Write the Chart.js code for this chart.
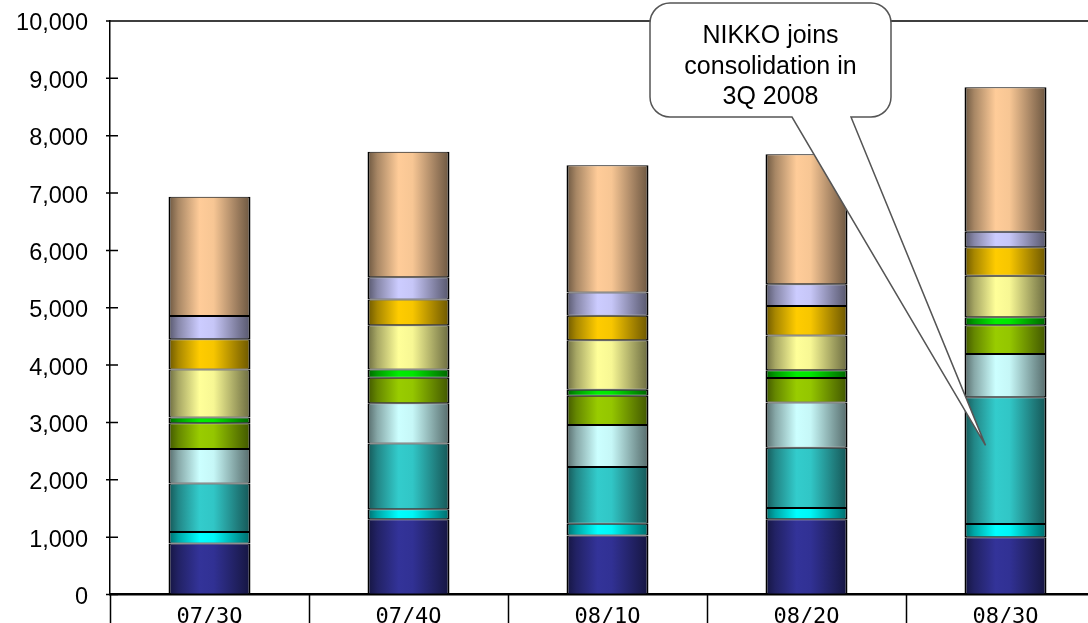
<!DOCTYPE html>
<html>
<head>
<meta charset="utf-8">
<script src="https://cdn.jsdelivr.net/npm/chart.js@4.4.1/dist/chart.umd.min.js"></script>
<style>
  html, body { margin: 0; padding: 0; background: #fff; overflow: hidden; }
  #wrap { width: 1106px; height: 623px; }
</style>
</head>
<body>
<div id="wrap"><canvas id="chart" width="1106" height="623"></canvas></div>
<script>
// categories + tick labels
const quarters = ['07/3Q', '07/4Q', '08/1Q', '08/2Q', '08/3Q'];
const yTickValues = [0, 1000, 2000, 3000, 4000, 5000, 6000, 7000, 8000, 9000, 10000];

// stacked segments, bottom to top (no legend in the source, named by colour)
const navy      = [890, 1310, 1030, 1310, 1000];
const cyan      = [200, 175, 205, 200, 230];
const teal      = [845, 1150, 990, 1050, 2210];
const lightCyan = [600, 700, 730, 790, 755];
const olive     = [450, 445, 510, 425, 500];
const green     = [100, 145, 105, 135, 140];
const yellow    = [840, 770, 865, 605, 725];
const gold      = [525, 450, 425, 515, 495];
const lavender  = [405, 385, 405, 380, 270];
const tan       = [2080, 2190, 2220, 2265, 2520];

const calloutLines = ['NIKKO joins', 'consolidation in', '3Q 2008'];

const BAR_PCT = 0.412;

function shade(hex, f) {
    const n = parseInt(hex.slice(1), 16);
    const r = Math.round(((n >> 16) & 255) * f);
    const g = Math.round(((n >> 8) & 255) * f);
    const b = Math.round((n & 255) * f);
    return `rgb(${r},${g},${b})`;
}

// cylinder-like horizontal gradient, like the old Excel fill
function barFill(hex) {
    return (ctx) => {
        if (ctx.type !== 'data') return hex;
        const chart = ctx.chart;
        const xs = chart.scales.x;
        if (!xs || !chart.chartArea) return hex;
        const cx = xs.getPixelForValue(ctx.dataIndex);
        const half = xs.width / quarters.length * BAR_PCT / 2;
        const g = chart.ctx.createLinearGradient(cx - half, 0, cx + half, 0);
        g.addColorStop(0, shade(hex, 0.42));
        g.addColorStop(0.12, shade(hex, 0.66));
        g.addColorStop(0.38, shade(hex, 1));
        g.addColorStop(0.55, shade(hex, 0.97));
        g.addColorStop(0.85, shade(hex, 0.6));
        g.addColorStop(1, shade(hex, 0.42));
        return g;
    };
}

function segment(data, hex) {
    return {
        data: data,
        backgroundColor: barFill(hex),
        borderColor: '#000',
        borderWidth: { top: 1, bottom: 1, left: 2, right: 2 },
        borderSkipped: false,
        categoryPercentage: 1,
        barPercentage: BAR_PCT
    };
}

// top frame line, inner y ticks, category separators under the axis
const framePlugin = {
    id: 'frame',
    beforeDatasetsDraw(chart) {
        const { ctx, chartArea } = chart;
        const xs = chart.scales.x, ys = chart.scales.y;
        ctx.save();
        ctx.strokeStyle = '#000';
        ctx.lineWidth = 1.5;
        ctx.beginPath();
        ctx.moveTo(chartArea.left, chartArea.top);
        ctx.lineTo(chartArea.right, chartArea.top);
        yTickValues.forEach(v => {
            const y = ys.getPixelForValue(v);
            ctx.moveTo(chartArea.left - 4, y);
            ctx.lineTo(chartArea.left + 8, y);
        });
        const step = xs.width / quarters.length;
        for (let i = 0; i <= quarters.length; i++) {
            const x = Math.round(xs.left + step * i) + 0.5;
            ctx.moveTo(x, chartArea.bottom);
            ctx.lineTo(x, chart.height);
        }
        ctx.stroke();
        ctx.restore();
    }
};

const calloutPlugin = {
    id: 'callout',
    afterDatasetsDraw(chart) {
        const { ctx } = chart;
        const xs = chart.scales.x, ys = chart.scales.y;
        const L = 650, T = 3, R = 891, B = 117, r = 20;
        const tailL = 792, tailR = 851;
        const tipX = xs.getPixelForValue(4) - 20;
        const tipY = ys.getPixelForValue(2600);

        ctx.save();
        ctx.beginPath();
        ctx.moveTo(L + r, T);
        ctx.lineTo(R - r, T);
        ctx.arcTo(R, T, R, T + r, r);
        ctx.lineTo(R, B - r);
        ctx.arcTo(R, B, R - r, B, r);
        ctx.lineTo(tailR, B);
        ctx.lineTo(tipX, tipY);
        ctx.lineTo(tailL, B);
        ctx.lineTo(L + r, B);
        ctx.arcTo(L, B, L, B - r, r);
        ctx.lineTo(L, T + r);
        ctx.arcTo(L, T, L + r, T, r);
        ctx.closePath();
        ctx.fillStyle = '#fff';
        ctx.fill();
        ctx.strokeStyle = '#555';
        ctx.lineWidth = 1.5;
        ctx.stroke();

        ctx.fillStyle = '#000';
        ctx.font = "25px 'Liberation Sans', Arial, sans-serif";
        ctx.textAlign = 'center';
        ctx.textBaseline = 'alphabetic';
        calloutLines.forEach((t, i) => {
            ctx.fillText(t, (L + R) / 2, 43 + i * 30.5);
        });
        ctx.restore();
    }
};

new Chart(document.getElementById('chart'), {
    type: 'bar',
    data: {
        labels: quarters,
        datasets: [
            segment(navy, '#333399'),
            segment(cyan, '#00FFFF'),
            segment(teal, '#33CCCC'),
            segment(lightCyan, '#CCFFFF'),
            segment(olive, '#99CC00'),
            segment(green, '#00EE00'),
            segment(yellow, '#FFFF99'),
            segment(gold, '#FFCC00'),
            segment(lavender, '#CCCCFF'),
            segment(tan, '#FFCC99')
        ]
    },
    options: {
        responsive: false,
        animation: false,
        devicePixelRatio: 1,
        layout: { padding: { top: 21, right: 1, bottom: 0, left: 0 } },
        plugins: {
            legend: { display: false },
            tooltip: { enabled: false }
        },
        scales: {
            x: {
                stacked: true,
                grid: { display: false, drawTicks: false },
                border: { display: true, color: '#000', width: 2.5 },
                ticks: {
                    color: '#000',
                    font: { family: "'DejaVu Sans Mono', 'Liberation Mono', monospace", size: 22 },
                    padding: 10,
                    maxRotation: 0,
                    autoSkip: false
                },
                afterFit(scale) { scale.height = 28.5; }
            },
            y: {
                stacked: true,
                min: 0,
                max: 10000,
                grid: { display: false, drawTicks: false },
                border: { display: true, color: '#000', width: 1.5 },
                afterBuildTicks(scale) {
                    scale.ticks = yTickValues.map(v => ({ value: v }));
                },
                ticks: {
                    color: '#000',
                    font: { family: "'Liberation Sans', Arial, sans-serif", size: 23.5 },
                    padding: 22,
                    labelOffset: 3,
                    callback: (v) => v.toLocaleString('en-US')
                },
                afterFit(scale) {
                    scale.width = 110;
                    // label overflow + tick padding would otherwise push the plot area in
                    scale.paddingTop = 0;
                    scale.paddingBottom = 0;
                }
            }
        }
    },
    plugins: [framePlugin, calloutPlugin]
});
</script>
</body>
</html>
